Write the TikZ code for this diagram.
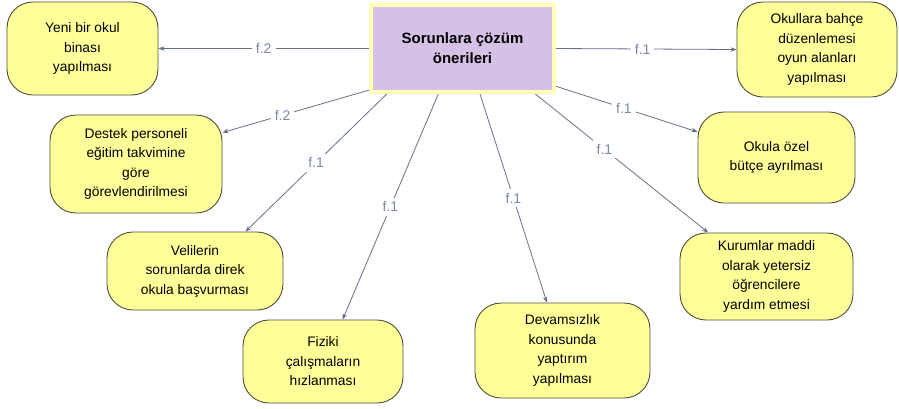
\documentclass[tikz,border=0pt]{standalone}
\usepackage{fontspec}
\setmainfont{Liberation Sans}
\usetikzlibrary{arrows.meta}
\definecolor{boxfill}{HTML}{FFFF99}
\definecolor{boxline}{HTML}{4D4D3A}
\definecolor{cfill}{HTML}{D5C0E6}
\definecolor{cline}{HTML}{FFFFB8}
\definecolor{edgecol}{HTML}{66708A}
\definecolor{lblcol}{HTML}{7A88AA}
\begin{document}
\begin{tikzpicture}[x=1pt,y=-1pt,
  idea/.style={draw=boxline, line width=0.9pt, fill=boxfill, rounded corners=26pt,
    align=center, inner sep=0pt, font=\fontsize{13.8}{19.5}\selectfont},
  central/.style={draw=cline, line width=4pt, fill=cfill, align=center, inner sep=0pt,
    minimum width=183pt, minimum height=87pt, font=\bfseries\fontsize{15}{20}\selectfont},
  link/.style={draw=edgecol, line width=0.8pt, -{Stealth[length=6pt,width=4.5pt,fill=black!80]}},
  lab/.style={fill=white, text=lblcol, inner sep=4pt, font=\fontsize{14}{14}\selectfont}]
\useasboundingbox (0,0) rectangle (899,408);

\node[central] (c) at (462.5,48.5) {Sorunlara çözüm\\önerileri};

\node[idea, minimum width=151pt, minimum height=93pt] (y) at (82.5,48.5) {Yeni bir okul\\binası\\yapılması};
\node[idea, minimum width=172pt, minimum height=98pt] (d) at (136,164) {Destek personeli\\eğitim takvimine\\göre\\görevlendirilmesi};
\node[idea, minimum width=160pt, minimum height=95pt] (ok) at (817,49.5) {Okullara bahçe\\düzenlemesi\\oyun alanları\\yapılması};
\node[idea, minimum width=157pt, minimum height=91pt] (oz) at (776.5,157.5) {Okula özel\\bütçe ayrılması};
\node[idea, minimum width=176pt, minimum height=78pt] (v) at (195,271) {Velilerin\\sorunlarda direk\\okula başvurması};
\node[idea, minimum width=160pt, minimum height=83pt] (f) at (323,361.5) {Fiziki\\çalışmaların\\hızlanması};
\node[idea, minimum width=175pt, minimum height=95pt] (dv) at (562.5,350.5) {Devamsızlık\\konusunda\\yaptırım\\yapılması};
\node[idea, minimum width=173pt, minimum height=87pt] (k) at (766.5,276.5) {Kurumlar maddi\\olarak yetersiz\\öğrencilere\\yardım etmesi};

\draw[link] (c.180) -- node[lab]{f.2} (y.east);
\draw[link] (c.0) -- node[lab,pos=0.48]{f.1} (ok.west);
\draw[link] (c.204) -- node[lab,pos=0.59]{f.2} (d.20);
\draw[link] (c.211) -- node[lab]{f.1} (v.38);
\draw[link] (c.242) -- node[lab]{f.1} (f.65);
\draw[link] (c.291) -- node[lab]{f.1} (dv.108);
\draw[link] (c.328) -- node[lab,pos=0.4]{f.1} (k.143);
\draw[link] (c.338) -- node[lab,pos=0.48]{f.1} (oz.162);
\end{tikzpicture}
\end{document}
